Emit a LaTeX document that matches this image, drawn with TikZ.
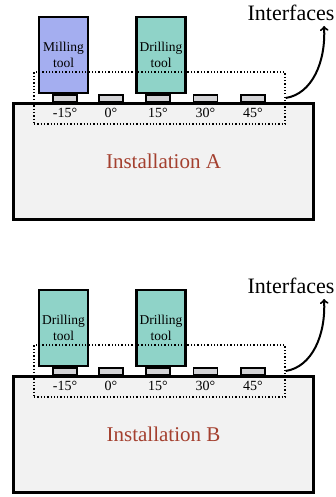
\documentclass[tikz,border=0pt]{standalone}
\usepackage{fontspec}
\setmainfont{Liberation Serif}
\usepackage{tikz}

\definecolor{millblue}{HTML}{A4AEF0}
\definecolor{drillteal}{HTML}{8FD3C8}
\definecolor{basegray}{HTML}{F2F2F2}
\definecolor{slotgray}{HTML}{D3D3D6}
\definecolor{instbrown}{HTML}{A4402F}

\tikzset{
  base/.style={draw, line width=3pt, fill=basegray, minimum width=300pt,
    minimum height=116pt, inner sep=0pt, text=instbrown,
    font=\fontsize{21}{24}\selectfont},
  tool/.style={draw, line width=2.2pt, minimum width=49pt, minimum height=76pt,
    inner sep=0pt, align=center, font=\fontsize{13.5}{16.5}\selectfont},
  slot/.style={draw, line width=1.7pt, fill=slotgray, minimum width=24pt,
    minimum height=6.5pt, inner sep=0pt},
  angle/.style={font=\fontsize{14}{16}\selectfont, inner sep=0pt},
  iface/.style={draw, line width=1.3pt, dash pattern=on 1.3pt off 2pt,
    minimum width=251pt, minimum height=52pt, inner sep=0pt},
  ifacelabel/.style={font=\fontsize{22}{24}\selectfont, inner sep=0pt}
}

\begin{document}
\begin{tikzpicture}[x=1pt,y=-1pt]
  \useasboundingbox (0,0) rectangle (335,497);

  % installation A
  \scope
  \node[base] (baseA) at (163.5,161.5) {Installation A};
  \node[tool, fill=millblue] (millA) at (63.5,55) {Milling\\tool};
  \node[tool, fill=drillteal] (drillA) at (161,55) {Drilling\\tool};
  \foreach \x/\deg [count=\i] in {65/-15,111/0,158/15,205.5/30,253/45}
    \node[slot] (slotA\i) at (\x,98.5) {}
    node[angle] (angA\i) at (\x,113) {\deg\textdegree};
  \node[iface] (ifA) at (159.5,98) {};
  \node[ifacelabel] (intA) at (291,13) {Interfaces};
  \coordinate (tipA) at (324,26);
  \draw[line width=2pt, ->, >=to] (ifA.east)
    .. controls (312,94) and (326,62) .. (tipA);
  \endscope

  % installation B
  \scope[shift={(0,273)}]
  \node[base] (baseB) at (163.5,161.5) {Installation B};
  \node[tool, fill=drillteal] (drillB1) at (63.5,55) {Drilling\\tool};
  \node[tool, fill=drillteal] (drillB2) at (161,55) {Drilling\\tool};
  \foreach \x/\deg [count=\i] in {65/-15,111/0,158/15,205.5/30,253/45}
    \node[slot] (slotB\i) at (\x,98.5) {}
    node[angle] (angB\i) at (\x,113) {\deg\textdegree};
  \node[iface] (ifB) at (159.5,98) {};
  \node[ifacelabel] (intB) at (291,13) {Interfaces};
  \coordinate (tipB) at (324,26);
  \draw[line width=2pt, ->, >=to] (ifB.east)
    .. controls (312,94) and (326,62) .. (tipB);
  \endscope
\end{tikzpicture}
\end{document}
